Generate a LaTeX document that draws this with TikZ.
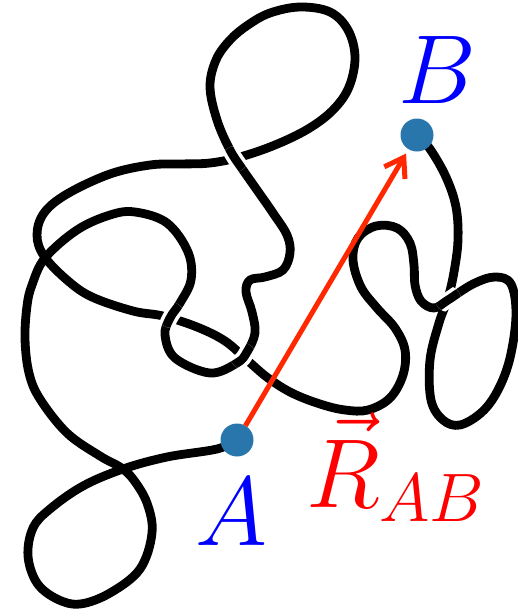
\RequirePackage{fix-cm}
\documentclass[tikz,border=0pt]{standalone}
\usetikzlibrary{arrows.meta}
\definecolor{dotblue}{RGB}{40,118,172}
\definecolor{arrred}{RGB}{255,40,0}
\begin{document}
\begin{tikzpicture}[x=0.5pt,y=-0.5pt,
  polymer/.style={line width=4.4pt, line cap=round, line join=round, black},
  gap/.style={line width=8pt, white},
  dot/.style={circle, fill=dotblue, minimum size=16.5pt, inner sep=0pt, outer sep=0pt},
  ptlabel/.style={text=blue, font=\fontsize{49}{55}\selectfont, inner sep=0pt, anchor=base},
  veclabel/.style={text=red, font=\fontsize{49}{55}\selectfont, inner sep=0pt, anchor=base west},
  vecarrow/.style={arrred, line width=2.5pt, -{Straight Barb[length=9pt,width=12pt]}, shorten >=2.5pt}]
\useasboundingbox (0,0) rectangle (518,612);
\coordinate (pa) at (237,440);
\coordinate (pb) at (417,135);
\draw[polymer] plot[smooth, tension=0.6] coordinates {
 (pa) (217,449) (167,457) (123,469) (83,486) (50,509) (33,528) (28,556) (37,583) (57,599)
 (80,604) (110,593) (140,569) (152,533) (147,503) (133,479) (120,467) (100,456) (67,433)
 (40,399) (29,373) (25,339) (27,306) (32,285) (45,258) (77,230) (110,215) (135,212)
 (167,223) (188,252) (191,280) (180,303) (170,318) (165,335) (175,358) (210,373)
 (237,363) (247,352) (255,333) (252,312) (246,292) (250,280) (265,277) (283,270)
 (290,253) (287,235) (273,213) (257,190) (243,170) (230,150) (217,120) (210,87)
 (216,60) (230,40) (248,25) (270,13) (300,7) (330,12) (348,30) (355,57) (349,87)
 (333,110) (308,129) (275,145) (240,157) (210,163) (180,164) (150,165) (110,174)
 (67,194) (44,213) (37,235) (44,256) (67,280) (92,297) (133,311) (163,316) (197,327)
 (225,341) (247,360) (268,378) (292,393) (320,404) (345,410) (368,410) (390,398)
 (403,375) (405,350) (395,328) (377,308) (361,287) (353,260) (358,238) (376,226)
 (397,228) (410,243) (414,265) (415,285) (421,301) (434,308) (448,300) (473,284)
 (495,277) (511,284) (516,315) (510,358) (498,390) (482,412) (460,425) (443,420)
 (431,400) (430,360) (439,323) (448,298) (454,272) (458,240) (456,207) (446,177)
 (430,149) (pb)};
% over-crossings: strand on top with a small white gap
\foreach \c/\pts in {
  {(235,159)}/{(273,213) (257,190) (243,170) (230,150) (217,120) (210,87)},
  {(171,315)}/{(188,252) (191,280) (180,303) (170,318) (165,335) (175,358) (210,373)},
  {(243,356)}/{(175,358) (210,373) (237,363) (247,352) (255,333) (252,312) (246,292)},
  {(448,299)}/{(414,265) (415,285) (421,301) (434,308) (448,300) (473,284) (495,277) (511,284)}}{
  \begin{scope}
    \clip \c circle[radius=13];
    \draw[gap] plot[smooth, tension=0.6] coordinates {\pts};
    \draw[polymer] plot[smooth, tension=0.6] coordinates {\pts};
  \end{scope}
}
\node[dot] (A) at (pa) {};
\node[dot] (B) at (pb) {};
\draw[vecarrow] (A) -- (B);
\node[ptlabel] (la) at (231,545) {$A$};
\node[ptlabel] (lb) at (437,103) {$B$};
\node[veclabel] (lr) at (306,507) {$\vec{R}_{AB}$};
\end{tikzpicture}
\end{document}
